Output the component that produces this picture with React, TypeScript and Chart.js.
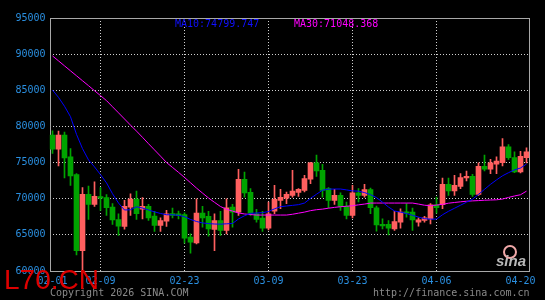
import React, { useEffect, useRef } from 'react';
import { Chart, registerables } from 'chart.js';

Chart.register(...registerables);

const dates = [
  '02-01','02-02','02-03','02-04','02-05','02-06','02-07','02-08','02-09','02-10',
  '02-11','02-12','02-13','02-14','02-15','02-16','02-17','02-18','02-19','02-20',
  '02-21','02-22','02-23','02-24','02-25','02-26','02-27','02-28','03-01','03-02',
  '03-03','03-04','03-05','03-06','03-07','03-08','03-09','03-10','03-11','03-12',
  '03-13','03-14','03-15','03-16','03-17','03-18','03-19','03-20','03-21','03-22',
  '03-23','03-24','03-25','03-26','03-27','03-28','03-29','03-30','03-31','04-01',
  '04-02','04-03','04-04','04-05','04-06','04-07','04-08','04-09','04-10','04-11',
  '04-12','04-13','04-14','04-15','04-16','04-17','04-18','04-19','04-20','04-21',
];

const opens = [
  78800, 76850, 78800, 75790, 73330, 62820, 70600, 69210, 70280, 70140,
  68840, 67130, 66160, 68840, 69950, 68570, 68940, 67590, 66300, 66900,
  67960, 67920, 67820, 64680, 63890, 68010, 67550, 65740, 66990, 65600,
  68840, 68150, 72690, 70880, 67920, 67320, 65930, 68290, 69770, 70090,
  70460, 70880, 71160, 72690, 74950, 73940, 71390, 69770, 70460, 68940,
  67690, 70830, 70460, 71250, 68750, 66440, 66440, 65830, 66760, 68190,
  68150, 66760, 66990, 67220, 69170, 69170, 71990, 71070, 71710, 72870,
  73100, 70600, 74490, 74070, 74770, 75000, 77180, 75690, 73700, 75690,
];
const highs = [
  79400, 79350, 79210, 76950, 73470, 71530, 71760, 72320, 71530, 70560,
  69310, 67920, 69770, 70690, 71070, 70140, 69210, 68240, 67360, 68380,
  68700, 68290, 68060, 65140, 70000, 68940, 68240, 67920, 68240, 70000,
  69210, 74070, 73700, 71390, 68520, 68240, 69540, 71850, 71300, 70930,
  73940, 71390, 73240, 75050, 76020, 74770, 71530, 71300, 70830, 69540,
  71850, 71390, 71990, 71480, 68980, 67220, 66990, 68240, 68610, 69310,
  68700, 67360, 67550, 69310, 70230, 72870, 72870, 73240, 73470, 73840,
  73380, 74950, 76020, 75460, 75790, 78330, 77500, 76480, 76570, 77040,
];
const lows = [
  76250, 74540, 72870, 71850, 62220, 59900, 67130, 68940, 68380, 67690,
  66440, 64910, 65790, 67690, 67130, 67220, 66990, 65460, 65460, 66160,
  67360, 67220, 63840, 62450, 63750, 66070, 64820, 62820, 64910, 65140,
  66070, 67690, 70230, 67690, 66760, 65460, 65690, 67920, 68610, 69310,
  70230, 70320, 70930, 72080, 73100, 70230, 68750, 69210, 68380, 67220,
  67360, 69540, 70230, 67920, 65510, 65830, 65000, 65600, 65930, 67450,
  65600, 66200, 66760, 66530, 68010, 68610, 70460, 70460, 71390, 72450,
  70320, 70460, 73840, 73470, 73470, 74540, 75420, 73610, 73570, 74950,
];
const closes = [
  76850, 78800, 75650, 73150, 62820, 70600, 69210, 70320, 70090, 68750,
  67080, 66200, 68940, 69950, 67920, 68940, 67360, 66300, 66990, 67920,
  67690, 67640, 64540, 63980, 68010, 67360, 65830, 66990, 65600, 68750,
  68150, 72690, 70790, 68010, 67130, 65930, 67920, 69910, 70190, 70600,
  71070, 71300, 72780, 74950, 73840, 71160, 69770, 70460, 68940, 67690,
  70830, 70460, 71250, 68750, 66390, 66250, 65930, 66850, 68150, 68010,
  67080, 67080, 67360, 69170, 68750, 71990, 71070, 71850, 72920, 73100,
  70600, 74490, 74070, 74950, 75190, 77180, 75690, 73700, 75880, 76480,
];

const ma10 = [
  85040, 84020, 82790, 81340, 78900, 76930, 75370, 74400, 73330, 72190,
  70690, 69400, 68440, 68470, 68880, 68710, 68440, 68180, 67960, 67780,
  67780, 67700, 67520, 67130, 66850, 66650, 66560, 66500, 66480, 66530,
  66570, 67200, 67640, 67980, 68020, 68070, 68230, 68600, 68900, 68990,
  69080, 69180, 69400, 70050, 70620, 71180, 71320, 71340, 71340, 71220,
  71080, 71050, 70850, 70560, 70150, 69520, 68850, 68300, 68150, 67950,
  67700, 67460, 67240, 67180, 67180, 67780, 68260, 68680, 69100, 69520,
  69930, 70600, 71300, 71990, 72600, 73170, 73600, 73990, 74250, 74799.747,
];
const ma30 = [
  89750, 89070, 88380, 87690, 87010, 86320, 85640, 84940, 84260, 83570,
  82720, 81880, 81030, 80180, 79350, 78490, 77610, 76750, 75890, 75010,
  74330, 73650, 72940, 72210, 71470, 70780, 70100, 69500, 68920, 68540,
  68290, 68030, 67890, 67810, 67740, 67740, 67740, 67740, 67740, 67740,
  67850, 68000, 68150, 68350, 68480, 68560, 68690, 68800, 68890, 68960,
  69030, 69150, 69260, 69400, 69400, 69400, 69400, 69400, 69400, 69400,
  69400, 69260, 69100, 69030, 69120, 69220, 69380, 69480, 69570, 69650,
  69700, 69740, 69790, 69820, 69850, 69950, 70180, 70380, 70550, 71048.368,
];

const labeledDates = ['02-01', '02-09', '02-23', '03-09', '03-23', '04-06', '04-20'];
const gridDates = ['02-09', '02-23', '03-09', '03-23', '04-06'];
const yMin = 60000;
const yMax = 95000;
const yStep = 5000;

const RED = '#ff5f5f';
const GREEN = '#00a400';
const AXIS_BLUE = '#2a8fe0';
const GRID = '#d0d0d0';
const MONO = "'DejaVu Sans Mono', monospace";

const bgPlugin = {
  id: 'bgFill',
  beforeDraw(chart: any) {
    const c = chart.ctx;
    c.save();
    c.fillStyle = '#000000';
    c.fillRect(0, 0, chart.width, chart.height);
    c.restore();
  },
};

const framePlugin = {
  id: 'frameBox',
  beforeDatasetsDraw(chart: any) {
    const { left, top, right, bottom } = chart.chartArea;
    const c = chart.ctx;
    const l = Math.round(left) + 0.5;
    const r = Math.floor(right) + 0.5;
    const t = Math.round(top) + 0.5;
    const b = Math.round(bottom) + 0.5;
    c.save();
    c.strokeStyle = '#a8a8a8';
    c.lineWidth = 1;
    c.strokeRect(l, t, r - l, b - t);
    c.restore();
  },
};

export default function App() {
  const ref = useRef<HTMLCanvasElement>(null);

  useEffect(() => {
    const colors = closes.map((c, i) => (c >= opens[i] ? RED : GREEN));
    const chart = new Chart(ref.current as HTMLCanvasElement, {
      type: 'bar',
      data: {
        labels: dates,
        datasets: [
          {
            type: 'line',
            label: 'MA10',
            data: ma10,
            borderColor: '#0000ff',
            borderWidth: 1,
            pointRadius: 0,
            tension: 0,
            order: 0,
          } as any,
          {
            type: 'line',
            label: 'MA30',
            data: ma30,
            borderColor: '#ff00ff',
            borderWidth: 1,
            pointRadius: 0,
            tension: 0,
            order: 1,
          } as any,
          {
            type: 'bar',
            label: 'body',
            data: opens.map((o, i) => [o, closes[i]]),
            backgroundColor: colors,
            borderWidth: 0,
            barThickness: 5,
            minBarLength: 1,
            grouped: false,
            order: 2,
          } as any,
          {
            type: 'bar',
            label: 'wick',
            data: lows.map((l, i) => [l, highs[i]]),
            backgroundColor: colors,
            borderWidth: 0,
            barThickness: 1,
            grouped: false,
            order: 3,
          } as any,
        ],
      },
      options: {
        animation: false,
        responsive: false,
        devicePixelRatio: 1,
        layout: { padding: { top: 18, right: 15.5, bottom: 0, left: 0 } },
        plugins: {
          legend: { display: false },
          tooltip: { enabled: false },
        },
        scales: {
          x: {
            type: 'category',
            offset: true,
            grid: {
              offset: false,
              drawTicks: false,
              lineWidth: 1,
              color: (ctx: any) =>
                ctx.tick && gridDates.includes(dates[ctx.tick.value]) ? GRID : 'rgba(0,0,0,0)',
            },
            border: { display: false, dash: [1, 2] },
            ticks: {
              autoSkip: false,
              maxRotation: 0,
              color: AXIS_BLUE,
              font: { family: MONO, size: 10 },
              padding: 4,
            },
            afterBuildTicks(scale: any) {
              scale.ticks = scale.ticks.filter((t: any) => labeledDates.includes(dates[t.value]));
            },
            afterFit(scale: any) {
              scale.height = 29;
              scale.paddingLeft = 0;
              scale.paddingRight = 0;
            },
          } as any,
          y: {
            min: yMin,
            max: yMax,
            grid: {
              drawTicks: false,
              lineWidth: 1,
              color: (ctx: any) =>
                ctx.tick && (ctx.tick.value === yMin || ctx.tick.value === yMax) ? 'rgba(0,0,0,0)' : GRID,
            },
            border: { display: false, dash: [1, 2] },
            ticks: {
              stepSize: yStep,
              color: AXIS_BLUE,
              font: { family: MONO, size: 10 },
              padding: 4,
              callback: (v: any) => String(v),
            },
            afterFit(scale: any) {
              scale.width = 49.5;
              scale.paddingTop = 0;
              scale.paddingBottom = 0;
            },
          } as any,
        },
      },
      plugins: [bgPlugin, framePlugin],
    });
    return () => chart.destroy();
  }, []);

  const mono: React.CSSProperties = {
    position: 'absolute',
    fontFamily: MONO,
    fontSize: '10px',
    lineHeight: '10px',
    whiteSpace: 'pre',
  };

  return (
    <div
      style={{
        position: 'absolute',
        left: 0,
        top: 0,
        width: 545,
        height: 300,
        background: '#000',
        overflow: 'hidden',
      }}
    >
      <canvas ref={ref} width={545} height={300} style={{ display: 'block', width: 545, height: 300 }} />
      <div style={{ ...mono, left: 175, top: 19, color: '#1010ff' }}>
        {'MA10:' + ma10[ma10.length - 1].toFixed(3)}
      </div>
      <div style={{ ...mono, left: 294, top: 19, color: '#ff00ff' }}>
        {'MA30:' + ma30[ma30.length - 1].toFixed(3)}
      </div>
      <div style={{ ...mono, left: 50, top: 288, color: '#8a8a8a' }}>Copyright 2026 SINA.COM</div>
      <div style={{ ...mono, left: 373, top: 288, color: '#8a8a8a' }}>http://finance.sina.com.cn</div>
      <div
        style={{
          position: 'absolute',
          left: 503,
          top: 245,
          width: 10,
          height: 10,
          borderRadius: '50%',
          border: '2px solid #f0a8a8',
        }}
      />
      <div
        style={{
          position: 'absolute',
          left: 496,
          top: 253,
          fontFamily: "'Liberation Sans', sans-serif",
          fontWeight: 'bold',
          fontStyle: 'italic',
          fontSize: '15px',
          lineHeight: '15px',
          color: '#b8b8b8',
        }}
      >
        sina
      </div>
      <div
        style={{
          position: 'absolute',
          left: 4,
          top: 266,
          fontFamily: "'Liberation Sans', Arial, sans-serif",
          fontSize: '28px',
          lineHeight: '28px',
          color: '#dd0000',
          whiteSpace: 'pre',
        }}
      >
        L70.CN
      </div>
    </div>
  );
}
